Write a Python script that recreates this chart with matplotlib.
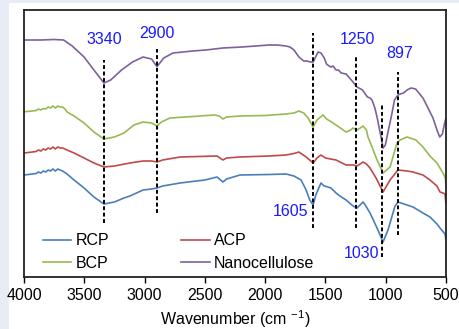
import matplotlib.pyplot as plt
from matplotlib.patches import Rectangle

plt.rcParams['font.family'] = ['Liberation Sans', 'DejaVu Sans']
plt.rcParams['mathtext.default'] = 'regular'

# wavenumber (cm-1) and offset transmittance (a.u.)
nano_w = [4000, 3860, 3750, 3672, 3600, 3502, 3420, 3337, 3281, 3191, 3100, 3013, 2942, 2897,
          2841, 2764, 2600, 2491, 2350, 2192, 1968, 1900, 1827, 1794, 1761, 1720, 1680, 1652,
          1625, 1602, 1586, 1561, 1537, 1510, 1491, 1470, 1454, 1437, 1412, 1392, 1370, 1329,
          1300, 1271, 1238, 1192, 1170, 1151, 1130, 1114, 1090, 1072, 1042, 1022, 1003, 981,
          951, 927, 898, 881, 852, 823, 790, 752, 691, 641, 608, 575, 552, 530, 515, 500]
nano_t = [237, 237, 237.5, 237, 231, 220, 207, 194, 197, 207, 215, 220, 218, 210.3,
          219, 224, 226, 227, 229, 230, 232, 232, 231, 230, 227, 220, 216, 216,
          215, 215, 219, 225, 224, 219, 213, 211, 210, 211, 207, 207, 204, 203,
          199, 195, 190, 187, 183, 180, 179, 177, 169, 160, 142, 129, 132, 145,
          162, 177, 182, 183, 184, 187, 189, 188, 179, 167, 159, 147, 140, 143, 152, 159]

bcp_w = [4000, 3930, 3900, 3880, 3860, 3840, 3820, 3800, 3780, 3760, 3740, 3720, 3700, 3680,
         3660, 3643, 3585, 3502, 3420, 3337, 3250, 3171, 3088, 3013, 2942, 2897, 2860, 2789,
         2600, 2420, 2380, 2350, 2320, 2209, 2000, 1827, 1761, 1720, 1680, 1644, 1602, 1570,
         1520, 1490, 1437, 1400, 1329, 1290, 1271, 1238, 1210, 1188, 1160, 1147, 1110, 1072,
         1022, 964, 923, 906, 881, 823, 750, 691, 633, 575, 525, 505, 500]
bcp_t = [165.3, 166, 166.5, 168, 167, 168.5, 168, 170, 169, 171, 169, 171, 170, 170,
         168, 165, 161, 154, 145, 138, 140, 144, 152, 155, 154, 151, 155, 159,
         160.5, 162, 161, 158, 160, 161, 161.5, 163, 164, 166, 164, 159, 150, 157,
         162, 158, 154, 151, 145, 147, 149, 147, 149, 151, 147, 140, 129, 117,
         104, 110, 127, 134, 137, 140, 137, 130, 121, 114, 104, 99, 90]

acp_w = [4000, 3930, 3900, 3880, 3860, 3840, 3820, 3800, 3780, 3760, 3740, 3720, 3700, 3680,
         3643, 3585, 3502, 3420, 3337, 3250, 3121, 3013, 2942, 2897, 2850, 2706, 2399, 2350,
         2320, 2209, 1968, 1827, 1761, 1720, 1660, 1602, 1570, 1537, 1500, 1412, 1329, 1271,
         1238, 1188, 1160, 1130, 1080, 1022, 964, 898, 823, 774, 691, 633, 575, 550, 525, 508, 500]
acp_t = [124, 125, 125.5, 127, 126, 128, 127, 129, 128, 130, 128, 130, 129, 129,
         127, 124, 119, 114, 110, 111, 114, 116, 116, 115, 117, 120, 121, 117,
         119, 120, 121, 122, 123.5, 125, 120, 114, 119, 122, 119, 117, 112, 112,
         111, 115, 113, 109, 99, 85, 97, 107, 106, 105, 102, 97, 91, 85, 84, 83, 72]

rcp_w = [4000, 3930, 3900, 3880, 3860, 3840, 3820, 3800, 3780, 3760, 3740, 3720, 3700, 3680,
         3643, 3585, 3502, 3420, 3337, 3250, 3171, 3121, 3013, 2942, 2897, 2850, 2706, 2500,
         2399, 2350, 2320, 2209, 1968, 1827, 1761, 1702, 1660, 1630, 1602, 1580, 1537, 1510,
         1479, 1454, 1412, 1380, 1329, 1300, 1271, 1238, 1188, 1170, 1130, 1072, 1022, 981,
         964, 923, 898, 823, 774, 691, 633, 575, 550, 522, 508, 500]
rcp_t = [102, 103, 103.5, 105, 104, 106, 105, 107, 106, 108, 106, 108, 107, 106,
         103, 97, 89, 80, 73, 75, 79, 81, 87, 88, 89, 91, 94, 97,
         100, 95, 98, 102, 102.5, 103, 101, 97, 87, 77, 72, 82, 94, 91,
         90, 89, 84, 81, 77, 74, 71, 69, 75, 72, 64, 49, 35, 47,
         54, 71, 75, 72, 70, 64, 60, 53, 49, 45, 43, 37]

peaks = [3340, 2900, 1605, 1250, 1030, 897]
peak_top = [217, 228, 244, 222, 173, 205]
peak_bot = [54, 64, 49, 49, 20, 42]
peak_lbl = ['3340', '2900', '1605', '1250', '1030', '897']
lbl_x = [3337, 2897, 1786, 1238, 1197, 881]
lbl_y = [237, 243, 65, 237, 24, 223]

fs = 11.5

fig = plt.figure(figsize=(4.59, 3.29), dpi=100)
fig.patch.set_facecolor('#e8ecf6')
fig.patches.append(Rectangle((9 / 459, 0), 1, 1 - 3 / 329, transform=fig.transFigure,
                             facecolor='white', edgecolor='none', zorder=-10))
ax = fig.add_axes([24 / 459, 1 - 277 / 329, 422 / 459, 267 / 329])
ax.set_facecolor('none')

ax.plot(rcp_w, rcp_t, color='#4a7ebb', lw=1.2, label='RCP')
ax.plot(bcp_w, bcp_t, color='#98b954', lw=1.2, label='BCP')
ax.plot(acp_w, acp_t, color='#be4b48', lw=1.2, label='ACP')
ax.plot(nano_w, nano_t, color='#7d60a0', lw=1.2, label='Nanocellulose')

for p, t, b in zip(peaks, peak_top, peak_bot):
    ax.plot([p, p], [b, t], color='black', lw=1.4, ls=(0, (2, 1.3)), zorder=5)
for s, x, y in zip(peak_lbl, lbl_x, lbl_y):
    ax.text(x, y, s, color='#1a1aff', fontsize=fs, ha='center', va='center')

ax.set_xlim(4000, 500)
ax.set_ylim(0, 267)
ax.set_xticks(range(4000, 499, -500))
ax.set_yticks([])
ax.tick_params(axis='x', length=4, width=1, pad=4, labelsize=fs)
for sp in ax.spines.values():
    sp.set_linewidth(1.3)
    sp.set_color('#222222')
ax.set_xlabel('Wavenumber (cm $^{-1}$)', fontsize=fs, labelpad=4)

ax.legend(loc='lower left', ncol=2, frameon=False, fontsize=fs, handlelength=1.8,
          handletextpad=0.25, columnspacing=4.5, labelspacing=0.45,
          bbox_to_anchor=(0.01, -0.03))

fig.savefig('out.png', dpi=100, facecolor=fig.get_facecolor())
